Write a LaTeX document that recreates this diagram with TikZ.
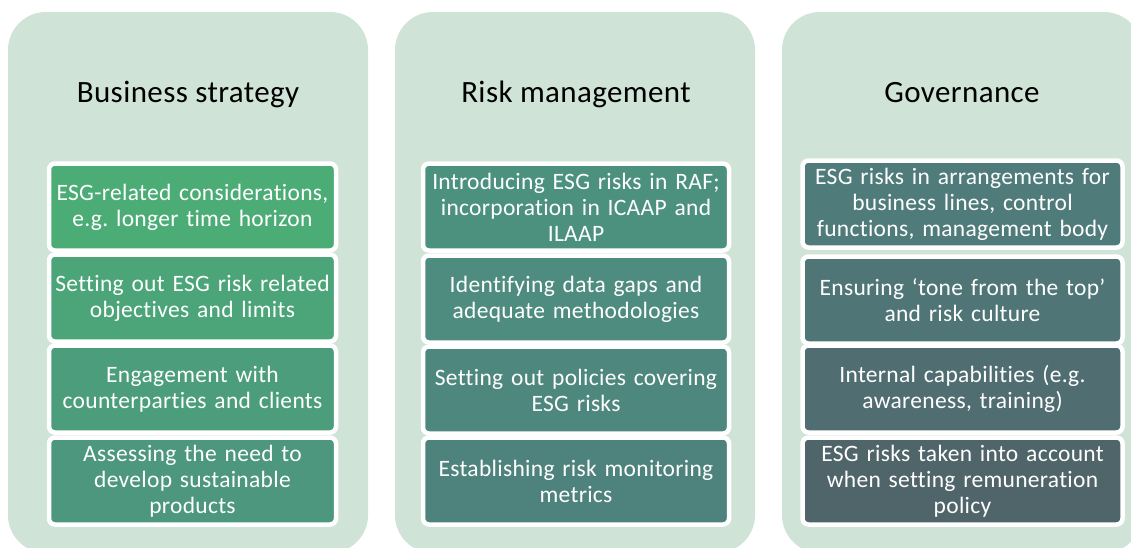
\documentclass[tikz,border=0pt]{standalone}
\usepackage{fontspec}
\setmainfont[RawFeature={-liga}, LetterSpace=1.3]{Carlito}
\frenchspacing
\definecolor{panelbg}{HTML}{CFE3D7}
\definecolor{ca}{HTML}{4BAC76}
\definecolor{cb}{HTML}{4BA579}
\definecolor{cc}{HTML}{4B9D7B}
\definecolor{cd}{HTML}{4C977D}
\definecolor{ce}{HTML}{4C917E}
\definecolor{cf}{HTML}{4D8C7E}
\definecolor{cg}{HTML}{4D877E}
\definecolor{ch}{HTML}{4E827D}
\definecolor{ci}{HTML}{4F7C7A}
\definecolor{cj}{HTML}{4F7576}
\definecolor{ck}{HTML}{506D71}
\definecolor{cl}{HTML}{50656A}
\tikzset{
  panel/.style={fill=panelbg, rounded corners=38pt},
  title/.style={anchor=base, font=\fontsize{31}{36}\selectfont, text=black},
  itembox/.style={draw=white, line width=4.5pt, rounded corners=6pt, minimum height=87pt,
    text=white, align=center, inner sep=0pt, font=\fontsize{23.5}{26}\selectfont},
  colA/.style={itembox, minimum width=287pt, text width=279pt},
  colB/.style={itembox, minimum width=306pt, text width=298pt},
  colC/.style={itembox, minimum width=320pt, text width=314pt},
}
\begin{document}
\begin{tikzpicture}[x=1pt,y=-1pt]
\clip (0,0) rectangle (1131,547);
\fill[white] (0,0) rectangle (1131,547);
% panels
\path[panel] (8,12) rectangle (368,553);
\path[panel] (395,12) rectangle (755,553);
\path[panel] (782,12) rectangle (1142,553);
% titles
\node[title] (t1) at (188,102) {Business strategy};
\node[title] (t2) at (576,102) {Risk management};
\node[title] (t3) at (962,102) {Governance};
% column 1
\node[colA, fill=ca] (a1) at (192.5,207) {ESG-related considerations,\\ e.g. longer time horizon};
\node[colA, fill=cb] (a2) at (192.5,298) {Setting out ESG risk related\\objectives and limits};
\node[colA, fill=cc] (a3) at (192.5,389) {Engagement with\\counterparties and clients};
\node[colA, fill=cd] (a4) at (192.5,481) {Assessing the need to\\develop sustainable\\products};
% column 2
\node[colB, fill=ce] (b1) at (576,207) {Introducing ESG risks in RAF;\\incorporation in ICAAP and\\ILAAP};
\node[colB, fill=cf] (b2) at (576,299) {Identifying data gaps and\\adequate methodologies};
\node[colB, fill=cg] (b3) at (576,390) {Setting out policies covering\\ESG risks};
\node[colB, fill=ch] (b4) at (576,481) {Establishing risk monitoring\\metrics};
% column 3
\node[colC, fill=ci] (c1) at (962.5,204) {ESG risks in arrangements for\\business lines, control\\functions, management body};
\node[colC, fill=cj] (c2) at (962.5,300) {Ensuring ‘tone from the top’\\and risk culture};
\node[colC, fill=ck] (c3) at (962.5,389) {Internal capabilities (e.g.\\awareness, training)};
\node[colC, fill=cl] (c4) at (962.5,481) {ESG risks taken into account\\when setting remuneration\\policy};
\end{tikzpicture}
\end{document}
